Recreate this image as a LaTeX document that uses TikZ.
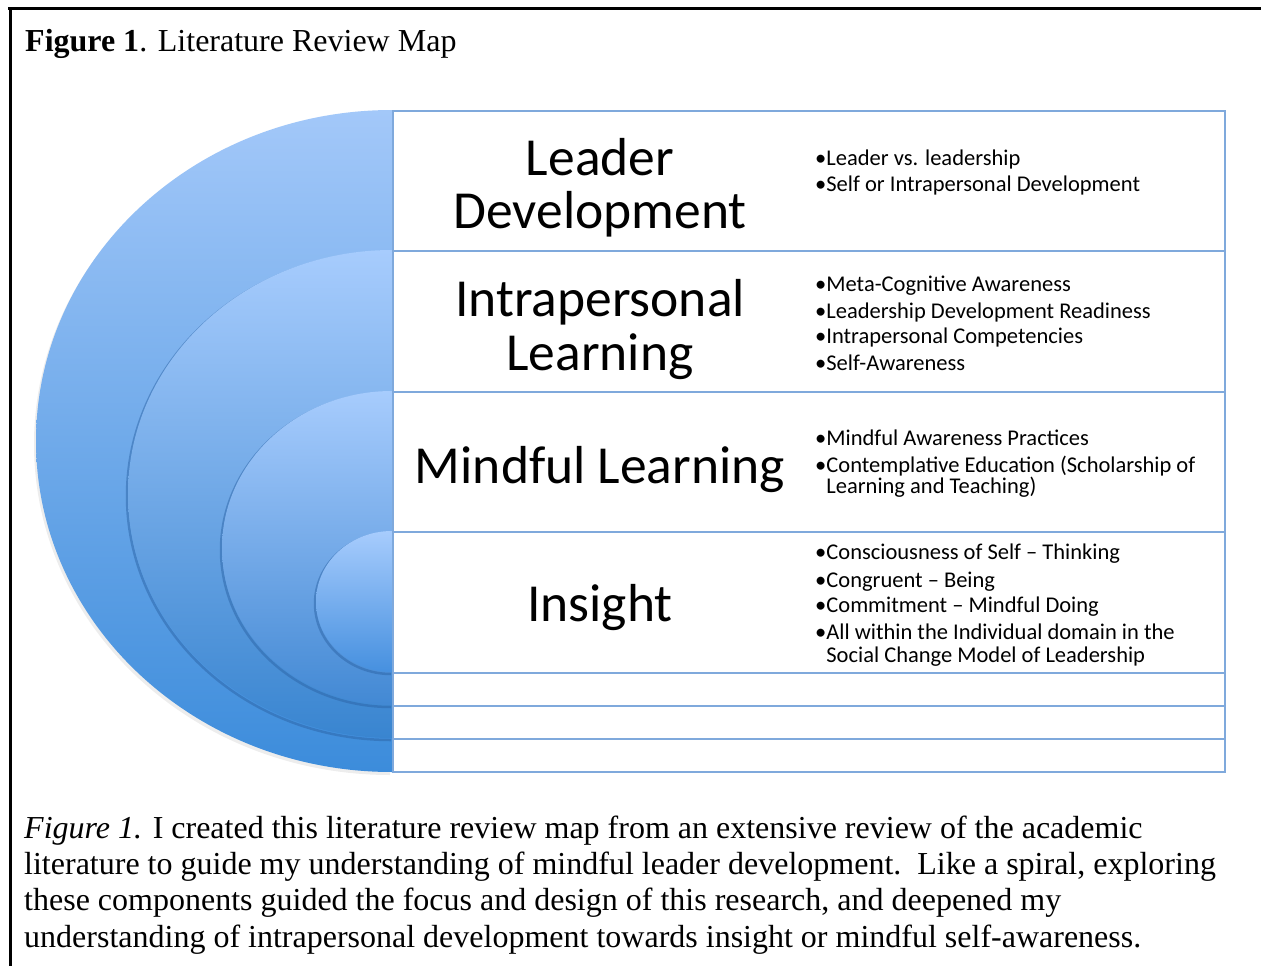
\documentclass[tikz,border=0pt]{standalone}
\usepackage{fontspec}
\setmainfont{Liberation Serif}
\newfontfamily\calfont{Carlito}
\definecolor{gridblue}{HTML}{7FA9DC}
\definecolor{discTop}{HTML}{A3C8F9}
\definecolor{discMid}{HTML}{76ADEB}
\definecolor{discBot}{HTML}{3C8CDB}
\definecolor{innerTop}{HTML}{A7CCFD}
\definecolor{innerBot}{HTML}{4690DF}
\definecolor{edgeDark}{HTML}{2C64A6}
% left half of an ellipse whose flat side lies on x = 392
\newcommand\halfdisc[3]{(392,#1) arc[start angle=90,end angle=270,x radius=#2pt,y radius=#3pt] -- cycle}
\newcommand\halfarc[3]{(392,#1) arc[start angle=90,end angle=270,x radius=#2pt,y radius=#3pt]}
\begin{document}
\begin{tikzpicture}[x=1pt,y=-1pt,
  frame/.style={line width=3pt, black},
  rowbox/.style={draw=gridblue, line width=2pt, inner sep=0pt, anchor=north west, minimum width=832pt},
  title/.style={font=\calfont\fontsize{53.5}{53}\selectfont, anchor=base, inner sep=0pt},
  item/.style={font=\calfont\fontsize{22.5}{22}\selectfont, anchor=base west, inner sep=0pt},
  capline/.style={font=\fontsize{32}{36.5}\selectfont, anchor=base west, inner sep=0pt},
  edgeshadow/.style={draw=edgeDark, line width=2.5pt, opacity=.5},
]
\useasboundingbox (0,0) rectangle (1261,966);
\fill[white] (0,0) rectangle (1261,966);

% frame
\draw[frame] (8,8.5) -- (1261,8.5);
\draw[frame] (10.5,8) -- (10.5,966);

% heading
\node[capline] (head) at (25,52) {\textbf{Figure 1}. Literature Review Map};

% nested discs
\begin{scope}[shift={(-2,3)}]
  \fill[black, opacity=.07] \halfdisc{110}{356}{331};
\end{scope}
\shade[top color=discTop, middle color=discMid, bottom color=discBot] \halfdisc{110}{356}{331};

\begin{scope}[shift={(-1,2)}]
  \draw[edgeshadow] \halfarc{250}{264}{244};
\end{scope}
\shade[top color=innerTop, bottom color=discBot!95!black] \halfdisc{250}{264}{244};

\begin{scope}[shift={(-1,2)}]
  \draw[edgeshadow] \halfarc{391}{170}{157};
\end{scope}
\shade[top color=innerTop, bottom color=innerBot!95!black] \halfdisc{391}{170}{157};

\begin{scope}[shift={(-1,2)}]
  \draw[edgeshadow] \halfarc{531}{76}{70.5};
\end{scope}
\shade[top color=innerTop, bottom color=innerBot] \halfdisc{531}{76}{70.5};

% table rows
\node[rowbox, minimum height=140pt] (row1) at (392,110) {};
\node[rowbox, minimum height=141pt] (row2) at (392,250) {};
\node[rowbox, minimum height=140pt] (row3) at (392,391) {};
\node[rowbox, minimum height=141pt] (row4) at (392,531) {};
\node[rowbox, minimum height=33pt] (row5) at (392,672) {};
\node[rowbox, minimum height=33pt] (row6) at (392,705) {};
\node[rowbox, minimum height=33pt] (row7) at (392,738) {};

% row titles
\node[title] (t1a) at (600,175) {Leader};
\node[title] (t1b) at (600,228) {Development};
\node[title] (t2a) at (600,316) {Intrapersonal};
\node[title] (t2b) at (600,370) {Learning};
\node[title] (t3) at (600,483) {Mindful Learning};
\node[title] (t4) at (600,621) {Insight};

% bullet lists
\foreach \n/\by/\bt in {
  b1/165/{•Leader vs. leadership},
  b2/191/{•Self or Intrapersonal Development},
  b3/291/{•Meta-Cognitive Awareness},
  b4/318/{•Leadership Development Readiness},
  b5/343/{•Intrapersonal Competencies},
  b6/370/{•Self-Awareness},
  b7/445/{•Mindful Awareness Practices},
  b8/472/{•Contemplative Education (Scholarship of},
  b9/493/{\phantom{•}Learning and Teaching)},
  b10/559/{•Consciousness of Self – Thinking},
  b11/587/{•Congruent – Being},
  b12/612/{•Commitment – Mindful Doing},
  b13/639/{•All within the Individual domain in the},
  b14/662/{\phantom{•}Social Change Model of Leadership}}
  \node[item] (\n) at (815,\by) {\bt};

% caption
\node[capline] (cap1) at (24,838) {\textit{Figure 1.} I created this literature review map from an extensive review of the academic};
\node[capline] (cap2) at (24,874) {literature to guide my understanding of mindful leader development.\ \ Like a spiral, exploring};
\node[capline] (cap3) at (24,910) {these components guided the focus and design of this research, and deepened my};
\node[capline] (cap4) at (24,947) {understanding of intrapersonal development towards insight or mindful self-awareness.};
\end{tikzpicture}
\end{document}
